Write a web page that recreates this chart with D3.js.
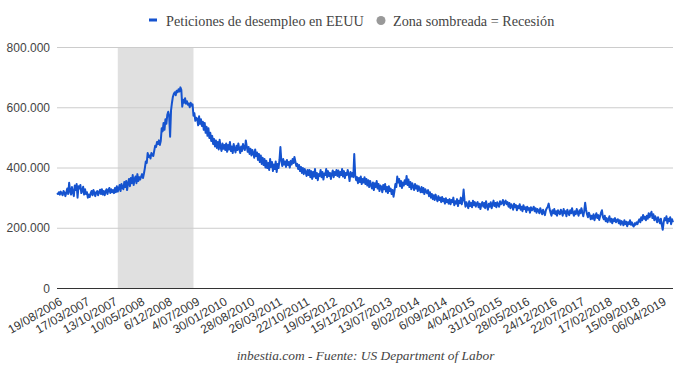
<!DOCTYPE html>
<html><head><meta charset="utf-8">
<script src="https://cdn.jsdelivr.net/npm/d3@7"></script>
<style>
html,body{margin:0;padding:0;background:#fff;}
svg{display:block;}
</style></head>
<body>
<svg id="chart" width="680" height="371"></svg>
<script>
// Weekly initial jobless claims (thousands), first week 19/08/2006
const startDate = "19/08/2006";
const claimsThousands = [
315,312,318,310,320,314,308,322,316,305,318,330,312,349,322,310,335,318,305,340,325,345,300,338,330,342,315,322,336,310,
328,312,318,300,310,302,315,322,308,325,315,305,318,322,308,318,326,312,328,310,322,308,320,328,312,325,332,315,328,318,
325,315,332,318,338,320,330,342,322,345,332,328,352,335,355,325,348,362,338,365,348,375,342,362,370,348,378,355,368,360,
370,378,365,380,398,420,415,448,435,440,430,448,442,438,455,472,468,485,478,490,475,488,530,520,548,525,560,545,575,585,
570,502,590,615,635,645,650,640,655,650,660,652,666,658,602,625,615,630,612,620,608,612,600,615,605,610,572,580,555,565,
562,540,570,545,560,538,552,525,548,515,535,505,530,498,515,488,505,478,495,470,490,465,485,460,492,468,455,480,462,475,
458,480,452,475,460,485,455,470,448,478,462,450,472,458,480,462,448,470,455,478,465,458,490,470,452,468,445,462,440,458,
448,432,460,438,450,425,445,418,440,412,432,408,428,400,422,398,415,392,428,402,418,388,410,395,420,385,412,398,425,468,
422,405,428,410,420,402,425,408,418,400,422,410,428,415,435,420,405,412,395,408,388,402,382,398,378,395,385,372,392,375,
392,368,388,362,385,370,395,365,382,358,378,372,392,368,385,360,380,375,395,368,388,372,382,362,378,390,368,385,375,392,
372,390,368,385,375,395,370,388,365,382,375,392,378,355,385,370,382,368,445,375,358,368,348,365,352,370,345,362,350,368,
345,362,340,358,335,355,342,330,350,325,348,335,355,330,345,322,340,335,318,342,328,345,320,335,315,338,322,330,312,325,
303,322,345,335,370,350,362,338,355,332,350,340,358,345,372,342,360,335,352,328,348,338,325,345,330,340,322,338,328,318,
335,318,332,312,328,320,315,325,305,318,300,312,295,308,292,310,298,288,305,292,300,285,302,288,296,280,298,285,292,280,
295,278,292,285,300,275,288,280,295,272,290,282,300,278,292,327,290,270,285,275,265,288,272,282,268,290,275,285,270,280,
285,268,280,262,278,285,270,282,265,288,272,260,280,270,285,265,278,290,272,282,268,285,275,270,288,278,282,292,275,285,
290,278,285,270,282,265,278,272,260,280,268,275,258,272,265,278,260,270,255,275,262,268,252,270,260,265,250,268,258,262,
270,255,265,250,262,258,248,265,255,245,260,250,242,258,265,270,280,262,250,240,258,248,262,245,255,240,258,250,245,260,
252,240,262,248,255,238,260,250,242,258,248,265,250,240,255,245,262,250,240,258,248,265,252,238,255,283,260,245,235,250,
242,228,240,230,245,225,238,248,232,242,226,238,250,258,235,228,240,222,232,218,228,238,220,230,215,228,222,232,218,225,
228,215,225,210,222,218,208,225,212,220,205,218,212,225,210,218,208,204,215,210,218,212,222,228,218,235,225,242,230,236,
225,240,230,248,235,245,253,232,245,225,238,230,218,235,225,215,230,210,193,218,232,225,238,215,230,222,235,212,228,218
];
const xTickLabels = ["19/08/2006","17/03/2007","13/10/2007","10/05/2008","6/12/2008","4/07/2009","30/01/2010","28/08/2010","26/03/2011","22/10/2011","19/05/2012","15/12/2012","13/07/2013","8/02/2014","6/09/2014","4/04/2015","31/10/2015","28/05/2016","24/12/2016","22/07/2017","17/02/2018","15/09/2018","06/04/2019"];
const yTicks = [0, 200000, 400000, 600000, 800000];
const recession = ["17/11/2007", "06/06/2009"];
const seriesName = "Peticiones de desempleo en EEUU";
const shadeName = "Zona sombreada = Recesión";
const footerText = "inbestia.com - Fuente: US Department of Labor";

const parse = s => { const [d,m,y] = s.split("/").map(Number); return Date.UTC(y, m-1, d); };
const t0 = parse(startDate);
const weekIndex = s => Math.round((parse(s) - t0) / (7*86400000));
const data = claimsThousands.map((v,i) => ({i, v: v*1000}));

const svg = d3.select("#chart");
const L = 57, R = 673, T = 47, B = 288;
const x = d3.scaleLinear().domain([0, data.length-1]).range([L, R]);
const xLabel = d3.scaleLinear().domain([0, data.length-1]).range([L+6, R-6]);
const y = d3.scaleLinear().domain([0, 800000]).range([B, T]);
const es = d3.formatLocale({decimal:",", thousands:".", grouping:[3], currency:["","€"]});
const fmt = es.format(",d");
const serif = "'Liberation Serif', 'Times New Roman', Times, serif";
const sans = "'Liberation Sans', Arial, sans-serif";

// recession shading
svg.append("rect")
  .attr("x", x(weekIndex(recession[0])))
  .attr("width", x(weekIndex(recession[1])) - x(weekIndex(recession[0])))
  .attr("y", y(800000)).attr("height", y(0) - y(800000))
  .attr("fill", "#e0e0e0");

// gridlines
svg.append("g").selectAll("line").data(yTicks.filter(d=>d>0)).join("line")
  .attr("x1", L).attr("x2", R).attr("y1", d=>y(d)+0.5).attr("y2", d=>y(d)+0.5)
  .attr("stroke", "#cccccc").attr("stroke-width", 1);

// y labels
svg.append("g").selectAll("text").data(yTicks).join("text")
  .attr("x", 50).attr("y", d=>y(d)+4.5)
  .attr("text-anchor", "end")
  .attr("font-family", sans)
  .attr("font-size", 12).attr("fill", "#444")
  .text(d=>fmt(d));

// line
svg.append("path").datum(data)
  .attr("d", d3.line().x(d=>x(d.i)).y(d=>y(d.v)))
  .attr("fill", "none").attr("stroke", "#1553cf").attr("stroke-width", 2)
  .attr("stroke-linejoin", "round");

// baseline
svg.append("line").attr("x1", L).attr("x2", R).attr("y1", y(0)+0.5).attr("y2", y(0)+0.5)
  .attr("stroke", "#333").attr("stroke-width", 1);

// x labels
svg.append("g").selectAll("text").data(xTickLabels).join("text")
  .attr("transform", d => `translate(${xLabel(weekIndex(d))},${y(0)+16}) rotate(-30)`)
  .attr("text-anchor", "end")
  .attr("font-family", sans)
  .attr("font-size", 12).attr("fill", "#333")
  .text(d=>d);

// legend
const lg = svg.append("g");
lg.append("rect").attr("x", 149).attr("y", 18.5).attr("width", 8).attr("height", 3).attr("fill", "#1553cf");
lg.append("text").attr("x", 166).attr("y", 25.5)
  .attr("font-family", serif)
  .attr("font-size", 14.2).attr("fill", "#444").text(seriesName);
lg.append("circle").attr("cx", 381).attr("cy", 20.5).attr("r", 4.5).attr("fill", "#999");
lg.append("text").attr("x", 393).attr("y", 25.5)
  .attr("font-family", serif)
  .attr("font-size", 14.2).attr("fill", "#444").text(shadeName);

// footer
svg.append("text").attr("x", 365.5).attr("y", 360).attr("text-anchor", "middle")
  .attr("font-family", serif)
  .attr("font-style", "italic")
  .attr("font-size", 13.4).attr("fill", "#444").text(footerText);
</script>
</body></html>
